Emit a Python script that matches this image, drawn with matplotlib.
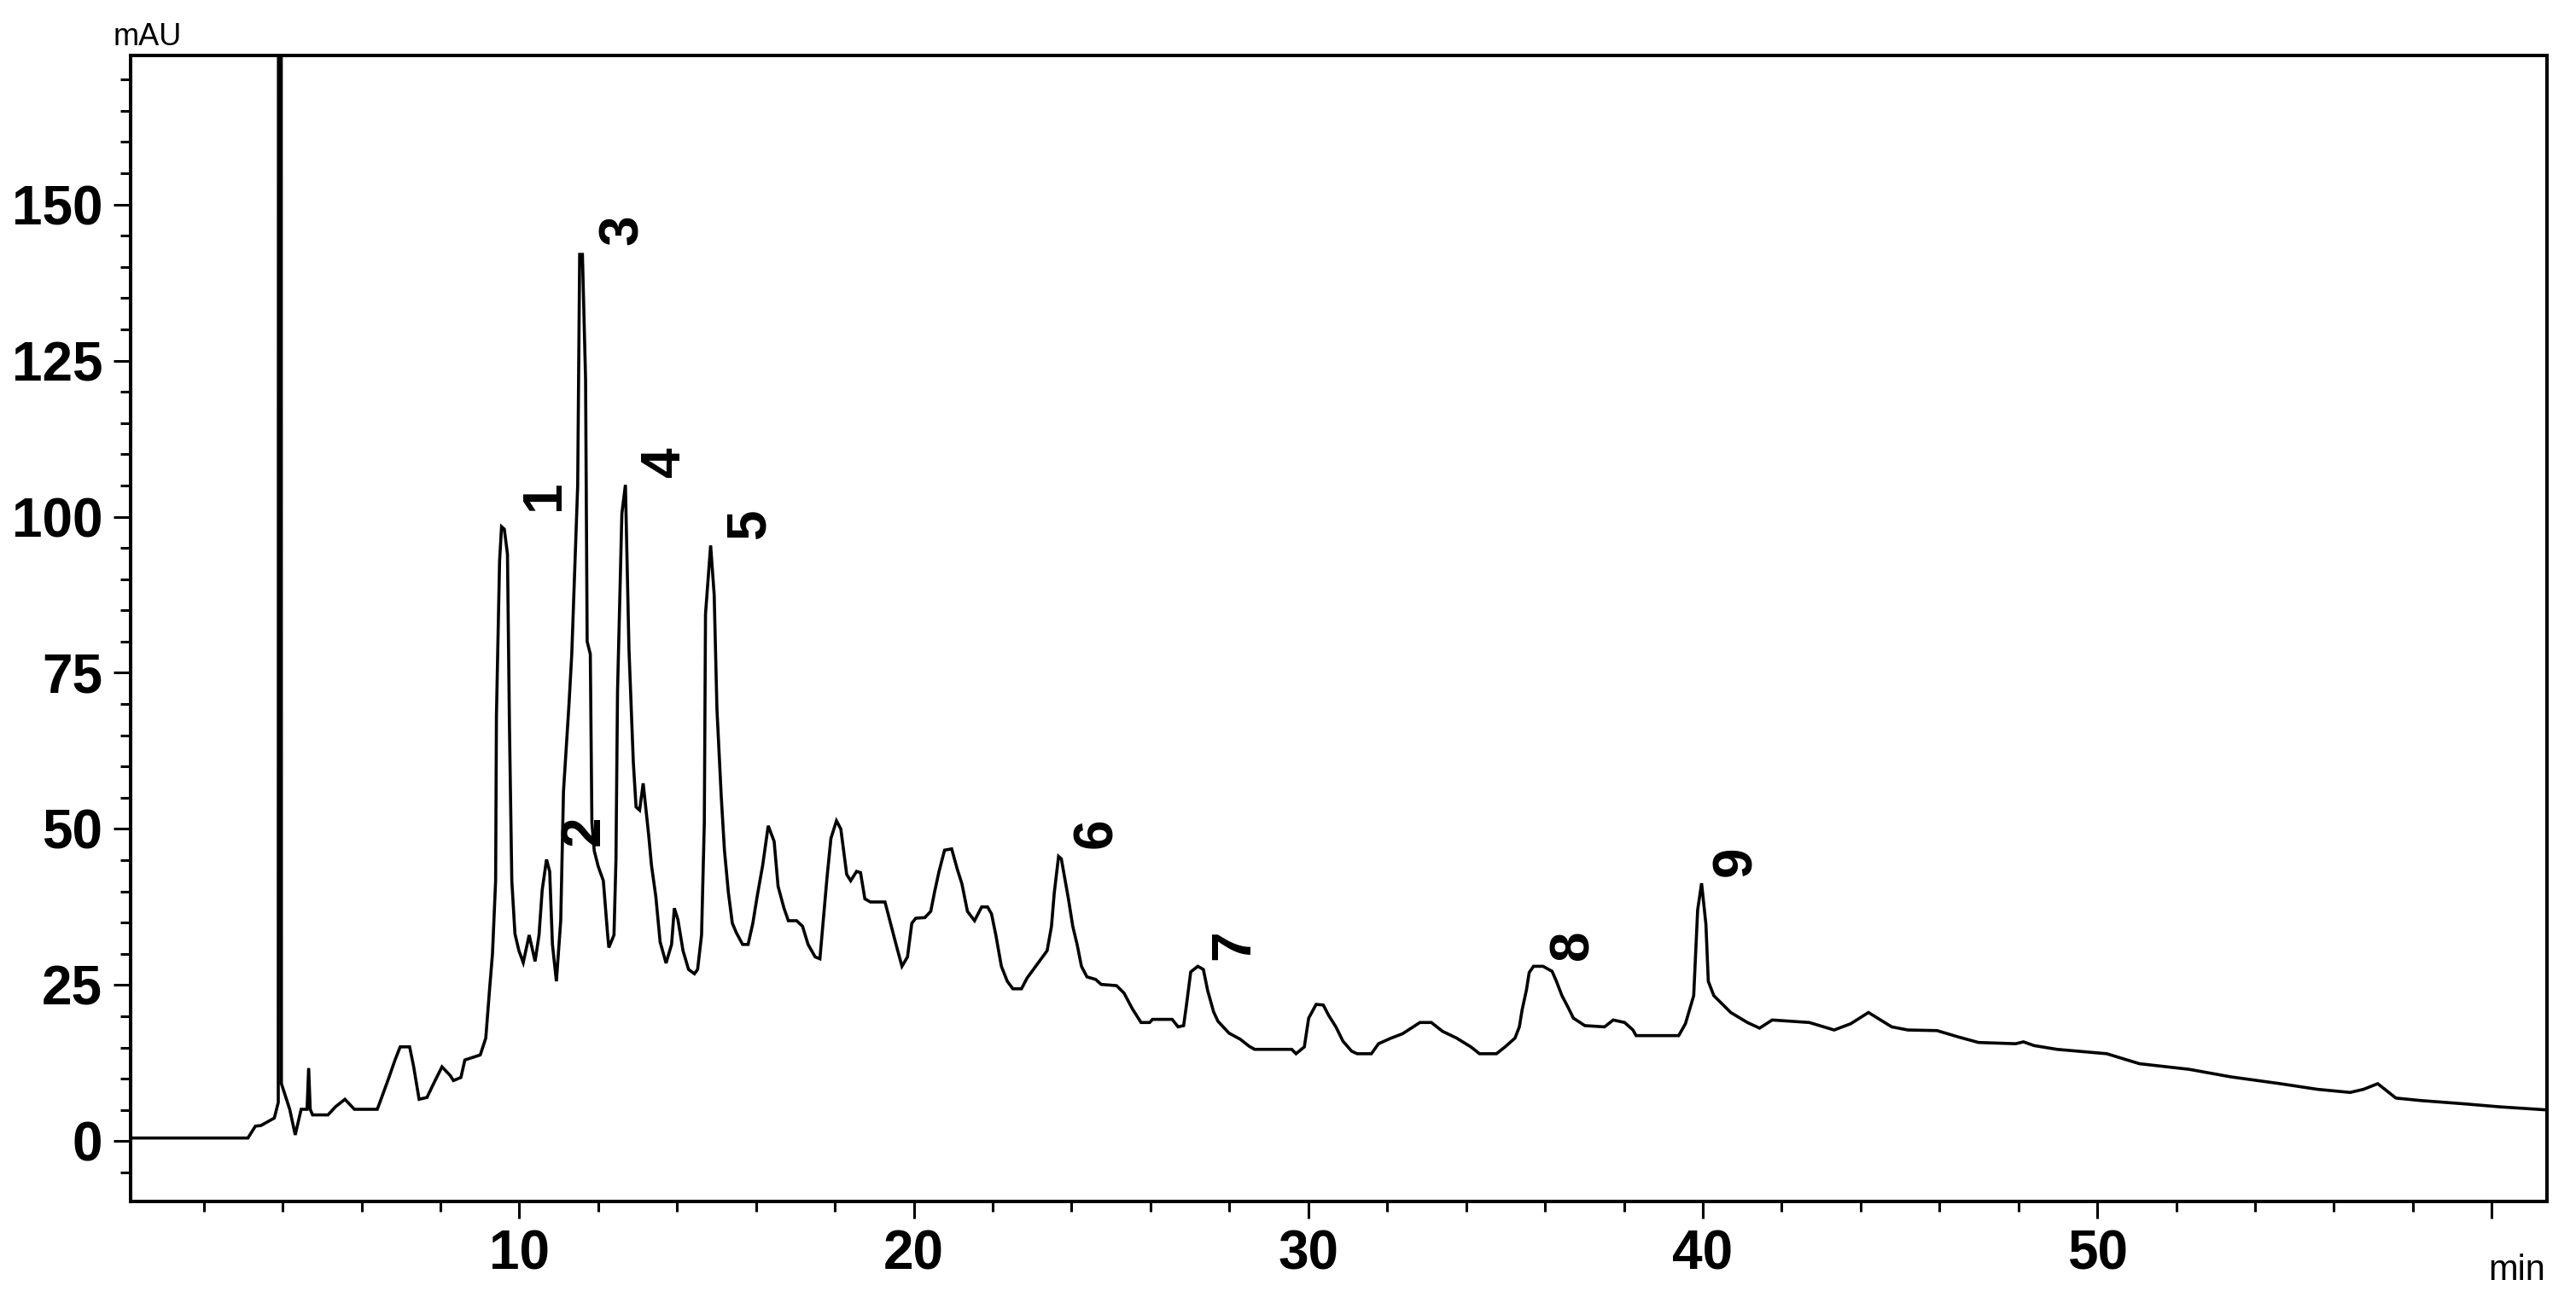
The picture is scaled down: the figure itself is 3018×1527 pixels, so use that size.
import matplotlib
matplotlib.use("Agg")
import matplotlib.pyplot as plt
from matplotlib.ticker import MultipleLocator, FixedLocator

plt.rcParams['font.family'] = ['Liberation Sans', 'DejaVu Sans']

# retention time (min) and absorbance (mAU)
time_min = [
    0.0, 3.12, 3.31, 3.45, 3.79, 3.89, 3.90, 3.96, 3.97, 4.18, 4.32, 4.47, 4.62, 4.66,
    4.70, 4.76, 5.15, 5.34, 5.58, 5.82, 6.40, 6.50, 6.69, 6.85, 6.98, 7.22, 7.32, 7.46,
    7.66, 7.85, 8.04, 8.25, 8.33, 8.52, 8.62, 9.01, 9.15, 9.25, 9.32, 9.40, 9.42, 9.50,
    9.55, 9.62, 9.70, 9.75, 9.81, 9.89, 9.99, 10.10, 10.25, 10.40, 10.50, 10.58, 10.69,
    10.77, 10.84, 10.94, 11.05, 11.12, 11.26, 11.33, 11.48, 11.53, 11.60, 11.68, 11.72,
    11.80, 11.84, 11.90, 12.00, 12.13, 12.24, 12.27, 12.40, 12.45, 12.49, 12.60, 12.69,
    12.78, 12.89, 12.96, 13.05, 13.14, 13.28, 13.35, 13.46, 13.57, 13.72, 13.86, 13.93,
    14.02, 14.15, 14.29, 14.44, 14.52, 14.62, 14.69, 14.72, 14.85, 14.94, 15.01, 15.12,
    15.20, 15.30, 15.40, 15.50, 15.66, 15.80, 15.92, 16.03, 16.17, 16.31, 16.46, 16.56,
    16.71, 16.82, 17.03, 17.18, 17.32, 17.50, 17.62, 17.72, 17.80, 17.90, 18.04, 18.15,
    18.30, 18.40, 18.55, 18.65, 18.76, 18.90, 19.27, 19.41, 19.55, 19.70, 19.84, 19.95,
    20.05, 20.28, 20.43, 20.53, 20.64, 20.78, 20.96, 21.10, 21.22, 21.36, 21.54, 21.72,
    21.87, 21.97, 22.08, 22.22, 22.37, 22.51, 22.73, 22.87, 23.09, 23.38, 23.49, 23.56,
    23.67, 23.74, 23.81, 23.92, 24.03, 24.14, 24.25, 24.39, 24.61, 24.75, 25.14, 25.33,
    25.54, 25.76, 25.98, 26.05, 26.55, 26.70, 26.84, 26.91, 27.02, 27.20, 27.34, 27.45,
    27.60, 27.71, 27.99, 28.28, 28.50, 28.64, 29.58, 29.69, 29.90, 30.01, 30.20, 30.38,
    30.52, 30.70, 30.88, 31.10, 31.24, 31.60, 31.78, 32.10, 32.39, 32.61, 32.83, 33.12,
    33.40, 33.76, 34.12, 34.34, 34.77, 34.99, 35.24, 35.35, 35.42, 35.53, 35.60, 35.71,
    35.95, 36.18, 36.29, 36.43, 36.58, 36.72, 37.01, 37.51, 37.73, 38.02, 38.23, 38.31,
    39.39, 39.56, 39.77, 39.87, 39.97, 40.08, 40.14, 40.28, 40.71, 41.13, 41.44, 41.76,
    42.70, 43.33, 43.75, 44.20, 44.79, 45.20, 45.94, 46.47, 46.99, 47.93, 48.13, 48.40,
    48.98, 50.24, 51.07, 52.33, 53.38, 54.64, 55.58, 56.41, 56.75, 57.11, 57.57, 58.20,
    59.25, 60.19, 61.40,
]
absorbance_mau = [
    0.5, 0.5, 2.4, 2.5, 3.7, 6.2, 400.0, 400.0, 9.2, 5.1, 1.0, 5.1, 5.1, 11.7,
    5.1, 4.2, 4.2, 5.5, 6.7, 5.1, 5.1, 6.8, 10.1, 13.0, 15.1, 15.1, 12.0, 6.7,
    7.0, 9.5, 11.9, 10.5, 9.7, 10.2, 13.0, 13.8, 16.5, 24.6, 30.0, 41.7, 68.0, 92.9,
    98.4, 98.0, 94.0, 66.7, 41.7, 33.2, 30.5, 28.6, 33.0, 28.8, 33.0, 40.2, 45.1,
    43.2, 31.5, 25.6, 35.3, 56.0, 70.0, 78.0, 105.0, 142.0, 142.0, 122.0, 80.0,
    78.0, 51.0, 46.5, 44.0, 41.7, 33.0, 31.0, 33.0, 45.0, 72.0, 100.5, 105.1,
    78.8, 60.7, 53.5, 53.0, 57.3, 49.0, 44.2, 39.2, 31.9, 28.5, 31.5, 37.3,
    35.5, 30.5, 27.5, 26.8, 27.5, 33.0, 51.0, 84.4, 95.4, 87.5, 69.2, 55.1,
    46.6, 39.8, 34.9, 33.4, 31.5, 31.5, 34.9, 39.2, 44.2, 50.5, 48.0, 40.8,
    37.3, 35.3, 35.3, 34.4, 31.5, 29.5, 29.2, 36.4, 42.2, 48.5, 51.3, 50.0,
    42.7, 41.7, 43.2, 43.0, 38.8, 38.3, 38.3, 34.9, 31.5, 28.0, 29.5, 34.9,
    35.7, 35.8, 36.8, 40.0, 43.2, 46.6, 46.8, 43.6, 41.2, 36.8, 35.3, 37.5,
    37.5, 36.4, 33.0, 28.0, 25.6, 24.4, 24.4, 26.1, 28.0, 30.5, 34.4, 39.7,
    45.6, 45.2, 42.7, 38.8, 34.4, 31.5, 28.0, 26.3, 25.9, 25.1, 24.9, 23.7,
    21.2, 19.0, 19.0, 19.5, 19.5, 18.3, 18.5, 21.7, 27.1, 28.0, 27.5, 24.1,
    20.7, 19.2, 17.3, 16.3, 15.2, 14.7, 14.7, 14.0, 15.1, 19.7, 21.9, 21.8,
    20.1, 18.3, 16.0, 14.4, 14.0, 14.0, 15.6, 16.5, 17.2, 18.1, 19.0, 19.0,
    17.6, 16.5, 15.1, 14.0, 14.0, 15.1, 16.5, 18.3, 21.0, 24.2, 27.0, 28.0,
    28.0, 27.2, 25.6, 23.3, 21.5, 19.7, 18.5, 18.3, 19.4, 19.0, 17.8, 16.9,
    16.9, 18.8, 23.3, 37.0, 41.3, 34.7, 25.6, 23.3, 20.6, 19.0, 18.1, 19.4,
    19.0, 17.8, 18.8, 20.6, 18.3, 17.8, 17.7, 16.7, 15.8, 15.6, 15.9, 15.3,
    14.7, 14.0, 12.4, 11.5, 10.3, 9.2, 8.3, 7.8, 8.3, 9.2, 6.9, 6.5,
    6.0, 5.5, 5.0,
]

# numbered peak annotations
peak_labels = ["1", "2", "3", "4", "5", "6", "7", "8", "9"]
peak_label_t = [10.64, 11.65, 12.62, 13.70, 15.84, 24.65, 28.12, 36.72, 40.85]
peak_label_v = [103.5, 49.8, 146.0, 108.8, 98.8, 49.3, 31.5, 31.5, 44.8]

x_major_ticks = [10, 20, 30, 40, 50, 60]
x_major_labels = ["10", "20", "30", "40", "50", ""]
y_major_ticks = [0, 25, 50, 75, 100, 125, 150]
y_major_labels = ["0", "25", "50", "75", "100", "125", "150"]

W, H = 3018, 1527
fig = plt.figure(figsize=(W / 100, H / 100), dpi=100)
left, right, top, bottom = 152.7, 2984.0, 64.7, 1408.3
ax = fig.add_axes([left / W, 1 - bottom / H, (right - left) / W, (bottom - top) / H])

ax.plot(time_min, absorbance_mau, color="black", linewidth=2.6, solid_joinstyle="miter")

ax.set_xlim(0.14, 61.4)
ax.set_ylim(-9.7, 173.9)

ax.xaxis.set_major_locator(FixedLocator(x_major_ticks))
ax.set_xticklabels(x_major_labels)
ax.xaxis.set_minor_locator(MultipleLocator(2))
ax.yaxis.set_major_locator(FixedLocator(y_major_ticks))
ax.set_yticklabels(y_major_labels)
ax.yaxis.set_minor_locator(MultipleLocator(5))

for sp in ax.spines.values():
    sp.set_linewidth(2.9)
    sp.set_color("black")

ax.tick_params(axis="both", which="major", direction="out", length=14.4, width=2.2,
               labelsize=46, colors="black")
ax.tick_params(axis="both", which="minor", direction="out", length=8.6, width=2.2)
ax.tick_params(axis="x", which="major", pad=9)
ax.tick_params(axis="y", which="major", pad=9)
for lbl in ax.get_xticklabels() + ax.get_yticklabels():
    lbl.set_fontweight("bold")

ax.text(-0.007, 1.009, "mAU", transform=ax.transAxes, ha="left", va="baseline",
        fontsize=26, color="black")
ax.text(0.9993, -0.068, "min", transform=ax.transAxes, ha="right", va="baseline",
        fontsize=30, color="black")

for lab, t, v in zip(peak_labels, peak_label_t, peak_label_v):
    ax.text(t, v, lab, rotation=90, ha="center", va="center", fontsize=46,
            fontweight="bold", color="black")

fig.savefig("out.png", dpi=100, facecolor="white")
